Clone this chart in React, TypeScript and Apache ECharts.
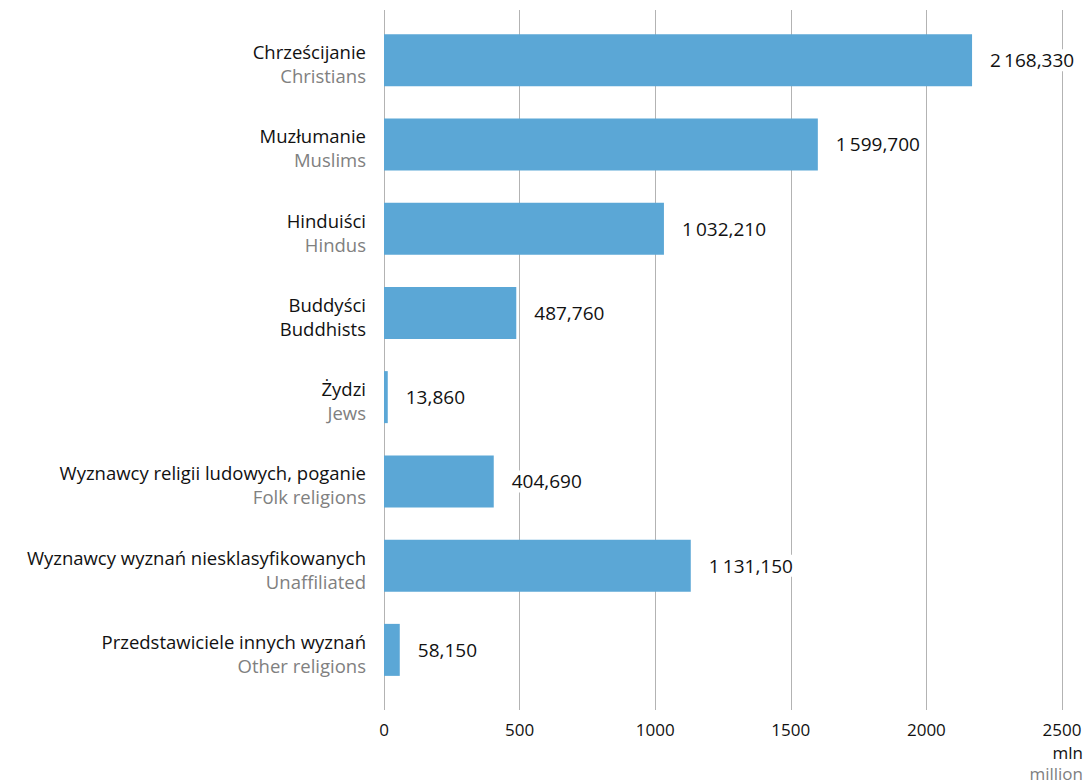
import React, { useEffect, useRef } from "react";
import * as echarts from "echarts";

const categoriesPl = [
  "Chrześcijanie",
  "Muzłumanie",
  "Hinduiści",
  "Buddyści",
  "Żydzi",
  "Wyznawcy religii ludowych, poganie",
  "Wyznawcy wyznań niesklasyfikowanych",
  "Przedstawiciele innych wyznań",
];
const categoriesEn = [
  "Christians",
  "Muslims",
  "Hindus",
  "Buddhists",
  "Jews",
  "Folk religions",
  "Unaffiliated",
  "Other religions",
];
const enDark = [false, false, false, true, false, false, false, false];
const values = [2168.33, 1599.7, 1032.21, 487.76, 13.86, 404.69, 1131.15, 58.15];
const tickValues = [0, 500, 1000, 1500, 2000, 2500];
const unitPl = "mln";
const unitEn = "million";

const FONT = "Open Sans";

function fmt(v: number): string {
  const s = v.toFixed(3);
  const [i, d] = s.split(".");
  const ii = i.replace(/\B(?=(\d{3})+(?!\d))/g, "\u2009");
  return ii + "," + d;
}

export default function App() {
  const ref = useRef<HTMLDivElement>(null);
  useEffect(() => {
    if (!ref.current) return;
    const chart = echarts.init(ref.current, null, { renderer: "svg" });
    const keys = categoriesPl.map((_, i) => String(i));
    chart.setOption({
      animation: false,
      textStyle: { fontFamily: FONT },
      grid: [
        { left: 384, right: 26, top: 18, bottom: 91 },
        { left: 384, right: 26, top: 10, bottom: 73 },
      ],
      xAxis: [
        {
          gridIndex: 0,
          type: "value",
          min: 0,
          max: 2500,
          interval: 500,
          axisLine: { show: false },
          axisTick: { show: false },
          axisLabel: { show: false },
          splitLine: { show: false },
        },
        {
          gridIndex: 1,
          type: "value",
          min: tickValues[0],
          max: tickValues[tickValues.length - 1],
          interval: 500,
          axisLine: { show: false },
          axisTick: { show: false },
          axisLabel: {
            fontFamily: FONT,
            fontSize: 17,
            color: "#111111",
            margin: 11,
            formatter: (v: number) => String(v),
          },
          splitLine: { show: true, lineStyle: { color: "#b3b3b3", width: 1 } },
        },
      ],
      yAxis: [
        {
          gridIndex: 0,
          type: "category",
          inverse: true,
          data: keys,
          axisLine: { show: false },
          axisTick: { show: false },
          splitLine: { show: false },
          axisLabel: {
            margin: 18,
            align: "right",
            lineHeight: 24,
            padding: [7, 0, 0, 0],
            formatter: (v: string) => {
              const i = Number(v);
              return (
                "{pl|" + categoriesPl[i] + "}\n{" + (enDark[i] ? "pl" : "en") + "|" + categoriesEn[i] + "}"
              );
            },
            rich: {
              pl: { fontFamily: FONT, fontSize: 18.5, color: "#111111", lineHeight: 24, align: "right" },
              en: { fontFamily: FONT, fontSize: 18.5, color: "#808080", lineHeight: 24, align: "right" },
            },
          },
        },
        {
          gridIndex: 1,
          type: "category",
          data: ["a"],
          show: false,
        },
      ],
      graphic: [
        {
          type: "text",
          x: 1083,
          y: 752,
          style: {
            text: unitPl,
            fontFamily: FONT,
            fontSize: 17,
            fill: "#111111",
            textAlign: "right",
            textVerticalAlign: "middle",
          },
        },
        {
          type: "text",
          x: 1083,
          y: 773,
          style: {
            text: unitEn,
            fontFamily: FONT,
            fontSize: 17,
            fill: "#808080",
            textAlign: "right",
            textVerticalAlign: "middle",
          },
        },
      ],
      series: [
        {
          type: "bar",
          xAxisIndex: 0,
          yAxisIndex: 0,
          data: values,
          barWidth: 52,
          itemStyle: { color: "#5ba7d6" },
          z: 3,
          label: {
            show: true,
            position: "right",
            distance: 14,
            fontFamily: FONT,
            fontSize: 19,
            color: "#111111",
            backgroundColor: "#ffffff",
            padding: [3, 4, 0, 4],
            formatter: (p: any) => fmt(p.value),
          },
        },
      ],
    });
    return () => chart.dispose();
  }, []);
  return (
    <div
      ref={ref}
      style={{ position: "absolute", left: 0, top: 0, width: 1088, height: 783 }}
    />
  );
}
